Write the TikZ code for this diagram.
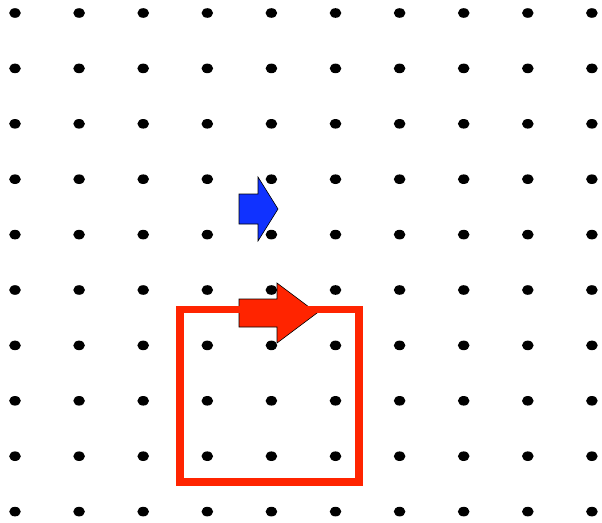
\documentclass[tikz,border=0pt]{standalone}
\begin{document}
\begin{tikzpicture}[x=1pt,y=-1pt,
  dot/.style={fill=black},
  arrowshape/.style={draw=black,line width=0.6pt,line join=miter}]
\definecolor{arrowblue}{RGB}{16,50,255}
\definecolor{arrowred}{RGB}{255,36,0}
\useasboundingbox (0,0) rectangle (602,522);
\foreach \i in {0,...,9}{
  \foreach \j in {0,...,9}{
    \fill[dot] ({15+64.1*\i},{13+55.4*\j}) ellipse [x radius=5.8, y radius=4.8];
  }
}
% blue arrow
\filldraw[arrowshape,fill=arrowblue] (239,194)--(258,194)--(258,177)--(278,209)--(258,241)--(258,224)--(239,224)--cycle;
% red arrow
\filldraw[arrowshape,fill=arrowred] (239,299)--(277,299)--(277,283)--(317,313)--(277,343)--(277,327)--(239,327)--cycle;
% red rectangle
\draw[arrowred,line width=7.5pt] (180,309.5) rectangle (359,482);
\end{tikzpicture}
\end{document}
